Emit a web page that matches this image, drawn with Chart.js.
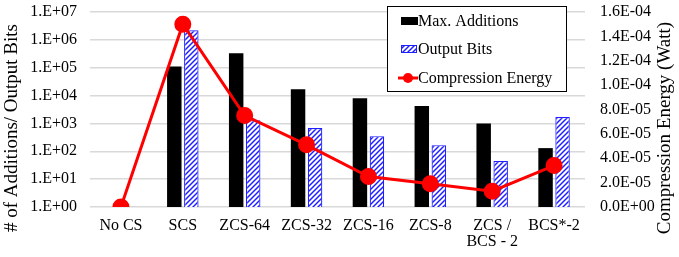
<!DOCTYPE html>
<html>
<head>
<meta charset="utf-8">
<script src="https://cdn.jsdelivr.net/npm/chart.js@4.4.0/dist/chart.umd.min.js"></script>
<style>
  html, body { margin: 0; padding: 0; background: #fff; }
  #wrap { position: relative; width: 679px; height: 257px; }
</style>
</head>
<body>
<div id="wrap"><canvas id="chart" width="679" height="257"></canvas></div>
<script>
// Data
const categories = ['No CS', 'SCS', 'ZCS-64', 'ZCS-32', 'ZCS-16', 'ZCS-8', ['ZCS /', 'BCS - 2'], 'BCS*-2'];
const maxAdditions = [null, 110000, 330000, 17000, 8000, 4200, 1000, 130];
const outputBits = [null, 2200000, 1300, 680, 350, 166, 45, 1700];
const compressionEnergy = [0, 1.5e-4, 7.5e-5, 5.1e-5, 2.5e-5, 1.9e-5, 1.3e-5, 3.4e-5];

const leftTickValues = [1, 10, 100, 1000, 1e4, 1e5, 1e6, 1e7];
const leftTickLabels = ['1.E+00', '1.E+01', '1.E+02', '1.E+03', '1.E+04', '1.E+05', '1.E+06', '1.E+07'];
const rightTickLabels = ['0.0E+00', '2.0E-05', '4.0E-05', '6.0E-05', '8.0E-05', '1.0E-04', '1.2E-04', '1.4E-04', '1.6E-04'];

const leftTitle = '# of Additions/ Output Bits';
const rightTitle = 'Compression Energy (Watt)';

const FONT = "'Liberation Serif', 'Times New Roman', serif";

// Blue diagonal hatch used for the "Output Bits" bars
function makeHatch() {
    const c = document.createElement('canvas');
    c.width = 5;
    c.height = 5;
    const g = c.getContext('2d');
    g.fillStyle = '#fff';
    g.fillRect(0, 0, 5, 5);
    g.strokeStyle = '#1f1fff';
    g.lineWidth = 1.5;
    g.beginPath();
    g.moveTo(0, 5); g.lineTo(5, 0);
    g.moveTo(-1, 1); g.lineTo(1, -1);
    g.moveTo(4, 6); g.lineTo(6, 4);
    g.stroke();
    return g.createPattern(c, 'repeat');
}

// Both axis titles read bottom-to-top, centred on the whole figure height
const axisTitles = {
    id: 'axisTitles',
    afterDraw(chart) {
        const ctx = chart.ctx;
        ctx.save();
        ctx.font = '19px ' + FONT;
        ctx.fillStyle = '#000';
        ctx.textAlign = 'center';
        ctx.textBaseline = 'middle';
        [[12, leftTitle], [665, rightTitle]].forEach(([x, text]) => {
            ctx.save();
            ctx.translate(x, 128);
            ctx.rotate(-Math.PI / 2);
            ctx.fillText(text, 0, 0);
            ctx.restore();
        });
        ctx.restore();
    }
};

// Legend drawn as a bordered box inside the plot
const boxLegend = {
    id: 'boxLegend',
    afterDraw(chart) {
        const ctx = chart.ctx;
        const x = 387, y = 6, w = 179, h = 85;
        ctx.save();
        ctx.fillStyle = '#fff';
        ctx.fillRect(x, y, w, h);
        ctx.strokeStyle = '#000';
        ctx.lineWidth = 1;
        ctx.strokeRect(x + 0.5, y + 0.5, w, h);
        ctx.font = '16px ' + FONT;
        ctx.textBaseline = 'middle';

        const rows = [21, 49, 78];
        // Max. Additions
        ctx.fillStyle = '#000';
        ctx.fillRect(401, rows[0] - 4, 17, 8);
        ctx.fillText('Max. Additions', 418, rows[0] + 1);
        // Output Bits
        ctx.fillStyle = chart.data.datasets[1].backgroundColor;
        ctx.fillRect(401, rows[1] - 4, 16, 8);
        ctx.strokeStyle = '#1f1fff';
        ctx.strokeRect(401.5, rows[1] - 3.5, 15, 7);
        ctx.fillStyle = '#000';
        ctx.fillText('Output Bits', 418, rows[1] + 1);
        // Compression Energy
        ctx.strokeStyle = '#ff0000';
        ctx.lineWidth = 3;
        ctx.beginPath();
        ctx.moveTo(398, rows[2]);
        ctx.lineTo(418, rows[2]);
        ctx.stroke();
        ctx.fillStyle = '#ff0000';
        ctx.beginPath();
        ctx.arc(408, rows[2], 5, 0, Math.PI * 2);
        ctx.fill();
        ctx.fillStyle = '#000';
        ctx.fillText('Compression Energy', 418, rows[2] + 1);
        ctx.restore();
    }
};

const ctx = document.getElementById('chart').getContext('2d');
const hatch = makeHatch();

new Chart(ctx, {
    type: 'bar',
    data: {
        labels: categories,
        datasets: [
            {
                type: 'line',
                label: 'Compression Energy',
                data: compressionEnergy,
                yAxisID: 'yRight',
                borderColor: '#ff0000',
                backgroundColor: '#ff0000',
                borderWidth: 3,
                pointRadius: 7,
                pointHoverRadius: 7,
                tension: 0,
                order: 0
            },
            {
                label: 'Output Bits',
                data: outputBits,
                yAxisID: 'yLeft',
                backgroundColor: hatch,
                borderColor: '#1f1fff',
                borderWidth: 1.2,
                order: 2
            },
            {
                label: 'Max. Additions',
                data: maxAdditions,
                yAxisID: 'yLeft',
                backgroundColor: '#000',
                borderWidth: 0,
                order: 1
            }
        ]
    },
    options: {
        responsive: false,
        animation: false,
        datasets: {
            bar: {
                categoryPercentage: 0.55,
                barPercentage: 0.85
            }
        },
        layout: { padding: { top: 12, bottom: 0 } },
        scales: {
            x: {
                grid: { display: false },
                border: { display: false },
                ticks: {
                    color: '#000',
                    font: { family: FONT, size: 16, lineHeight: 1.05 },
                    padding: 2,
                    maxRotation: 0,
                    autoSkip: false
                },
                afterFit(scale) { scale.height = 50; }
            },
            yLeft: {
                type: 'logarithmic',
                position: 'left',
                min: 1,
                max: 1e7,
                afterBuildTicks(scale) {
                    scale.ticks = leftTickValues.map(v => ({ value: v }));
                },
                ticks: {
                    color: '#000',
                    font: { family: FONT, size: 16 },
                    padding: 13,
                    callback: (v) => {
                        const i = leftTickValues.indexOf(v);
                        return i >= 0 ? leftTickLabels[i] : '';
                    }
                },
                grid: { color: '#d9d9d9', lineWidth: 1.5, drawTicks: false },
                border: { display: false },
                afterFit(scale) {
                    scale.width = 90;
                    scale.paddingTop = 0;
                    scale.paddingBottom = 0;
                }
            },
            yRight: {
                type: 'linear',
                position: 'right',
                min: 0,
                max: 1.6e-4,
                ticks: {
                    stepSize: 2e-5,
                    color: '#000',
                    font: { family: FONT, size: 16 },
                    padding: 15,
                    callback: (v, i) => rightTickLabels[i]
                },
                grid: { drawOnChartArea: false, drawTicks: false },
                border: { display: false },
                afterFit(scale) {
                    scale.width = 94;
                    scale.paddingTop = 0;
                    scale.paddingBottom = 0;
                }
            }
        },
        plugins: {
            legend: { display: false },
            tooltip: { enabled: false }
        }
    },
    plugins: [boxLegend, axisTitles]
});
</script>
</body>
</html>
